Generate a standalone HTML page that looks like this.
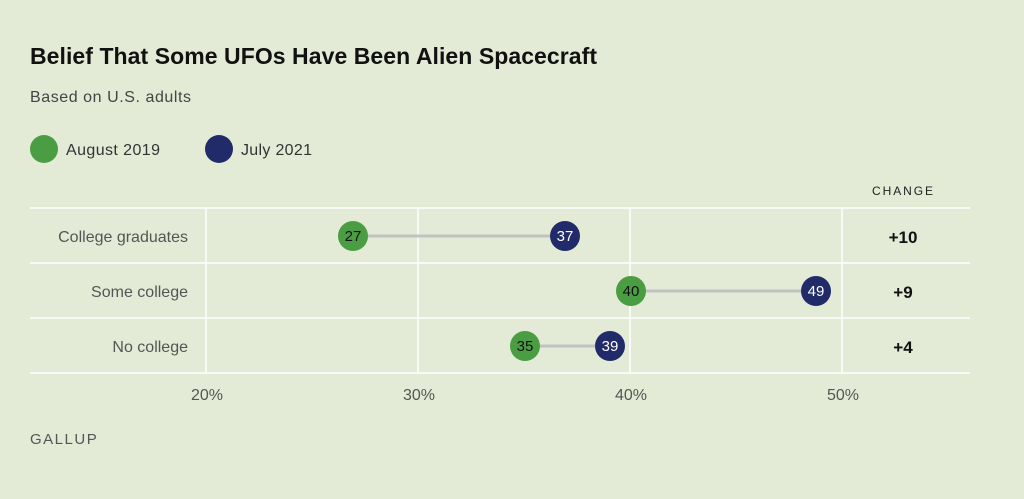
<!DOCTYPE html>
<html><head><style>
body{margin:0;width:1024px;height:494px;background:#e3ebd6;font-family:"Liberation Sans",sans-serif;overflow:hidden}
</style></head><body>
<svg width="1024" height="494" xmlns="http://www.w3.org/2000/svg" font-family="Liberation Sans, sans-serif">
<rect width="1024" height="494" fill="#e3ebd6"/>
<text x="30" y="64" font-size="23" font-weight="bold" fill="#111" textLength="567">Belief That Some UFOs Have Been Alien Spacecraft</text>
<text x="30" y="102" font-size="16" fill="#444" textLength="161">Based on U.S. adults</text>
<circle cx="44" cy="149" r="14" fill="#4b9d44"/>
<text x="66" y="155" font-size="16" fill="#333" textLength="94">August 2019</text>
<circle cx="219" cy="149" r="14" fill="#222b6a"/>
<text x="241" y="155" font-size="16" fill="#333" textLength="71">July 2021</text>
<text x="872" y="195" font-size="12" fill="#222" textLength="61">CHANGE</text>
<g stroke="#fff" stroke-width="1.5">
<line x1="30" y1="208" x2="970" y2="208"/><line x1="30" y1="263" x2="970" y2="263"/>
<line x1="30" y1="318" x2="970" y2="318"/><line x1="30" y1="373" x2="970" y2="373"/>
<line x1="206" y1="208" x2="206" y2="373"/><line x1="418" y1="208" x2="418" y2="373"/>
<line x1="630" y1="208" x2="630" y2="373"/><line x1="842" y1="208" x2="842" y2="373"/>
</g>
<g font-size="16" fill="#555" text-anchor="end">
<text x="188" y="242">College graduates</text><text x="188" y="297">Some college</text><text x="188" y="352">No college</text>
</g>
<g font-size="16" fill="#555" text-anchor="middle">
<text x="207" y="400">20%</text><text x="419" y="400">30%</text><text x="631" y="400">40%</text><text x="843" y="400">50%</text>
</g>
<g stroke="#c2c2c2" stroke-width="3">
<line x1="353" y1="236" x2="565" y2="236"/><line x1="631" y1="291" x2="816" y2="291"/><line x1="525" y1="346" x2="610" y2="346"/>
</g>
<g font-size="15" text-anchor="middle">
<circle cx="353" cy="236" r="15" fill="#4b9d44"/><text x="353" y="241" fill="#111">27</text>
<circle cx="565" cy="236" r="15" fill="#222b6a"/><text x="565" y="241" fill="#fff">37</text>
<circle cx="631" cy="291" r="15" fill="#4b9d44"/><text x="631" y="296" fill="#111">40</text>
<circle cx="816" cy="291" r="15" fill="#222b6a"/><text x="816" y="296" fill="#fff">49</text>
<circle cx="525" cy="346" r="15" fill="#4b9d44"/><text x="525" y="351" fill="#111">35</text>
<circle cx="610" cy="346" r="15" fill="#222b6a"/><text x="610" y="351" fill="#fff">39</text>
</g>
<g font-size="17" font-weight="bold" fill="#111" text-anchor="middle">
<text x="903" y="243">+10</text><text x="903" y="298">+9</text><text x="903" y="353">+4</text>
</g>
<text x="30" y="444" font-size="15" fill="#555" letter-spacing="1.5">GALLUP</text>
</svg>
</body></html>
